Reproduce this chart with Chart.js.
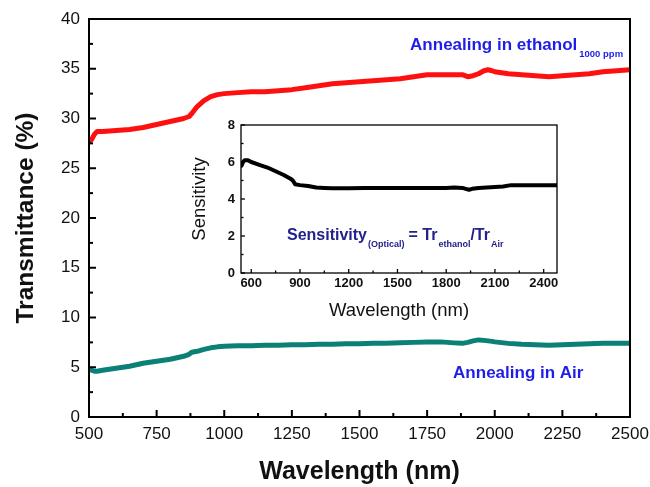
<!DOCTYPE html>
<html lang="en">
<head>
<meta charset="UTF-8">
<title>Transmittance vs wavelength</title>
<script src="https://cdn.jsdelivr.net/npm/chart.js"></script>
<style>
  body { margin: 0; background: #fff; }
  #wrap { position: relative; width: 650px; height: 487px; }
  #mainChart { position: absolute; left: 0; top: 0; }
  #insetChart { position: absolute; left: 185px; top: 110px; }
</style>
</head>
<body>
<div id="wrap">
  <canvas id="mainChart" width="650" height="487"></canvas>
  <canvas id="insetChart" width="380" height="215"></canvas>
</div>

<script>
// main plot data
const wavelength = [500, 510, 520, 530, 550, 600, 650, 700, 750, 800, 850, 870, 880, 900, 925, 950, 975, 1000,
  1050, 1100, 1150, 1200, 1250, 1300, 1350, 1400, 1450, 1500, 1550, 1600, 1650, 1700, 1750, 1800, 1850, 1880,
  1900, 1920, 1940, 1960, 1975, 1990, 2000, 2050, 2100, 2150, 2200, 2250, 2300, 2350, 2400, 2450, 2500];
const ethanolTr = [27.7, 27.9, 28.4, 28.7, 28.7, 28.8, 28.9, 29.1, 29.4, 29.7, 30.0, 30.2, 30.5, 31.2, 31.8, 32.2, 32.4, 32.5,
  32.6, 32.7, 32.7, 32.8, 32.9, 33.1, 33.3, 33.5, 33.6, 33.7, 33.8, 33.9, 34.0, 34.2, 34.4, 34.4, 34.4, 34.4,
  34.2, 34.3, 34.5, 34.8, 34.9, 34.8, 34.7, 34.5, 34.4, 34.3, 34.2, 34.3, 34.4, 34.5, 34.7, 34.8, 34.9];
const airTr = [4.8, 4.7, 4.6, 4.6, 4.7, 4.9, 5.1, 5.4, 5.6, 5.8, 6.1, 6.3, 6.5, 6.6, 6.8, 6.95, 7.05, 7.1,
  7.15, 7.15, 7.2, 7.2, 7.25, 7.25, 7.3, 7.3, 7.35, 7.35, 7.4, 7.4, 7.45, 7.5, 7.55, 7.55, 7.45, 7.4,
  7.5, 7.65, 7.75, 7.7, 7.65, 7.6, 7.55, 7.4, 7.3, 7.25, 7.2, 7.25, 7.3, 7.35, 7.4, 7.4, 7.4];

// inset data
const insetWavelength = [540, 550, 560, 580, 600, 650, 700, 750, 800, 850, 860, 870, 900, 950, 1000, 1050, 1100,
  1200, 1300, 1400, 1500, 1600, 1700, 1800, 1850, 1900, 1920, 1940, 1960, 2000, 2100, 2150, 2200, 2300, 2400, 2485];
const sensitivity = [5.8, 6.0, 6.1, 6.1, 6.0, 5.85, 5.7, 5.5, 5.3, 5.05, 4.95, 4.8, 4.75, 4.7, 4.62, 4.6, 4.58,
  4.58, 4.6, 4.6, 4.6, 4.6, 4.6, 4.6, 4.62, 4.6, 4.55, 4.5, 4.55, 4.6, 4.65, 4.68, 4.75, 4.75, 4.75, 4.75];

const mainXTicks = [500, 750, 1000, 1250, 1500, 1750, 2000, 2250, 2500];
const mainYTicks = [0, 5, 10, 15, 20, 25, 30, 35, 40];
const insetXTicks = [600, 900, 1200, 1500, 1800, 2100, 2400];
const insetYTicks = [0, 2, 4, 6, 8];

const FONT = "'Liberation Sans', Arial, sans-serif";

// box frame + inward major/minor ticks
const boxTicks = {
  id: 'boxTicks',
  afterDraw(chart, args, o) {
    const { ctx, chartArea: a, scales: { x, y } } = chart;
    ctx.save();
    ctx.strokeStyle = '#000';
    ctx.lineWidth = o.lineWidth;
    ctx.strokeRect(a.left, a.top, a.right - a.left, a.bottom - a.top);
    const tick = (scale, v, len, horiz) => {
      const p = scale.getPixelForValue(v);
      ctx.beginPath();
      if (horiz) { ctx.moveTo(p, a.bottom); ctx.lineTo(p, a.bottom - len); }
      else { ctx.moveTo(a.left, p); ctx.lineTo(a.left + len, p); }
      ctx.stroke();
    };
    const run = (scale, vals, horiz) => {
      vals.forEach((v, i) => {
        tick(scale, v, o.major, horiz);
        if (i > 0) tick(scale, (v + vals[i - 1]) / 2, o.minor, horiz);
      });
    };
    run(x, o.xTicks, true);
    run(y, o.yTicks, false);
    ctx.restore();
  }
};

// text with subscripts, anchored in data coordinates
const notes = {
  id: 'notes',
  afterDraw(chart, args, o) {
    const { ctx, scales: { x, y } } = chart;
    ctx.save();
    ctx.textBaseline = 'alphabetic';
    ctx.textAlign = 'left';
    o.items.forEach(it => {
      let px = x.getPixelForValue(it.x);
      const py = y.getPixelForValue(it.y);
      ctx.fillStyle = it.color;
      it.runs.forEach(r => {
        ctx.font = 'bold ' + r.size + 'px ' + FONT;
        ctx.fillText(r.text, px, py + (r.dy || 0));
        px += ctx.measureText(r.text).width + (r.gap || 0);
      });
    });
    ctx.restore();
  }
};

function pts(xs, ys) {
  return xs.map((v, i) => ({ x: v, y: ys[i] }));
}

function axis(min, max, ticks, fit, tickFont, pad, title) {
  return {
    type: 'linear', min: min, max: max,
    afterBuildTicks: s => { s.ticks = ticks.map(v => ({ value: v })); },
    afterFit: fit,
    grid: { display: false, drawTicks: false },
    border: { display: false },
    ticks: { padding: pad, color: '#111', font: tickFont, maxRotation: 0, autoSkip: false,
      callback: v => String(v) },
    title: title
  };
}

const lineStyle = { showLine: true, pointRadius: 0, borderJoinStyle: 'round', borderCapStyle: 'round' };

new Chart(document.getElementById('mainChart'), {
  type: 'scatter',
  data: {
    datasets: [
      { ...lineStyle, data: pts(wavelength, ethanolTr), borderColor: '#ff1010', borderWidth: 5 },
      { ...lineStyle, data: pts(wavelength, airTr), borderColor: '#0a8077', borderWidth: 5 }
    ]
  },
  options: {
    responsive: false,
    animation: false,
    layout: { padding: { top: 19, right: 20, left: 0, bottom: 0 } },
    plugins: {
      legend: { display: false },
      tooltip: { enabled: false },
      boxTicks: { lineWidth: 2, major: 7, minor: 4, xTicks: mainXTicks, yTicks: mainYTicks },
      notes: {
        items: [
          { x: 1687, y: 36.9, color: '#1e1ee8', runs: [
            { text: 'Annealing in ethanol', size: 17, gap: 2 },
            { text: '1000 ppm', size: 9.5, dy: 7 } ] },
          { x: 1846, y: 3.9, color: '#1e1ee8', runs: [ { text: 'Annealing in Air', size: 17 } ] }
        ]
      }
    },
    scales: {
      x: axis(500, 2500, mainXTicks,
        s => { s.height = 70; s.paddingLeft = 0; s.paddingRight = 0; },
        { family: FONT, size: 17 }, 7,
        { display: true, text: 'Wavelength (nm)', color: '#111',
          font: { family: FONT, size: 25, weight: 'bold' }, padding: { top: 0, bottom: 0 } }),
      y: axis(0, 40, mainYTicks,
        s => { s.width = 89; s.paddingTop = 0; s.paddingBottom = 0; },
        { family: FONT, size: 17 }, 9,
        { display: true, text: 'Transmittance (%)', color: '#111',
          font: { family: FONT, size: 24.5, weight: 'bold' }, padding: { top: 12, bottom: 0 } })
    }
  },
  plugins: [boxTicks, notes]
});

new Chart(document.getElementById('insetChart'), {
  type: 'scatter',
  data: {
    datasets: [
      { ...lineStyle, data: pts(insetWavelength, sensitivity), borderColor: '#000', borderWidth: 4 }
    ]
  },
  options: {
    responsive: false,
    animation: false,
    layout: { padding: { top: 15, right: 8, left: 0, bottom: 0 } },
    plugins: {
      legend: { display: false },
      tooltip: { enabled: false },
      boxTicks: { lineWidth: 1.3, major: 4, minor: 2.5, xTicks: insetXTicks, yTicks: insetYTicks },
      notes: {
        items: [
          { x: 820, y: 1.8, color: '#22228a', runs: [
            { text: 'Sensitivity', size: 16, gap: 1 },
            { text: '(Optical)', size: 9, dy: 7, gap: 4 },
            { text: '= Tr', size: 16, gap: 1 },
            { text: 'ethanol', size: 9, dy: 7 },
            { text: '/Tr', size: 16, gap: 1 },
            { text: 'Air', size: 9, dy: 7 } ] }
        ]
      }
    },
    scales: {
      x: axis(537, 2482, insetXTicks,
        s => { s.height = 52; s.paddingLeft = 0; s.paddingRight = 0; },
        { family: FONT, size: 13, weight: 'bold' }, 3,
        { display: true, text: 'Wavelength (nm)', color: '#111',
          font: { family: FONT, size: 18.5 }, padding: { top: 0, bottom: 3 } }),
      y: axis(0, 8, insetYTicks,
        s => { s.width = 56; s.paddingTop = 0; s.paddingBottom = 0; },
        { family: FONT, size: 13, weight: 'bold' }, 6,
        { display: true, text: 'Sensitivity', color: '#111',
          font: { family: FONT, size: 18.5 }, padding: { top: 4, bottom: 0 } })
    }
  },
  plugins: [boxTicks, notes]
});
</script>
</body>
</html>
